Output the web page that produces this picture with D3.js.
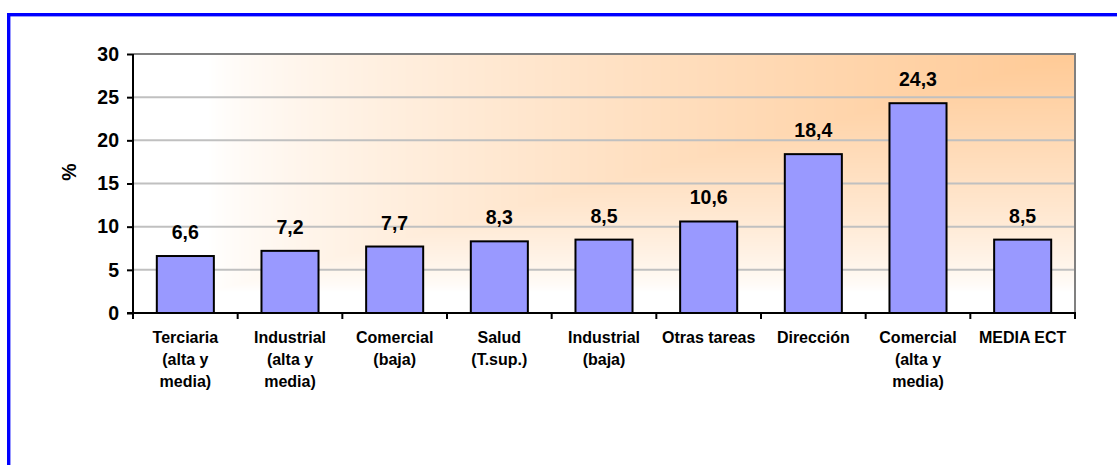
<!DOCTYPE html>
<html>
<head>
<meta charset="utf-8">
<script src="https://cdn.jsdelivr.net/npm/d3@7"></script>
<style>
  html, body { margin: 0; padding: 0; background: #ffffff; }
  svg { display: block; font-family: "Liberation Sans", Arial, sans-serif; font-weight: bold; }
</style>
</head>
<body>
<svg id="chart" width="1117" height="465"></svg>
<script>
const categories = [
  "Terciaria\n(alta y\nmedia)",
  "Industrial\n(alta y\nmedia)",
  "Comercial\n(baja)",
  "Salud\n(T.sup.)",
  "Industrial\n(baja)",
  "Otras tareas",
  "Dirección",
  "Comercial\n(alta y\nmedia)",
  "MEDIA ECT"
];
const values = [6.6, 7.2, 7.7, 8.3, 8.5, 10.6, 18.4, 24.3, 8.5];
const yTicks = [0, 5, 10, 15, 20, 25, 30];
const yLabel = "%";

const W = 1117, H = 465;
const plot = { left: 133, right: 1075, top: 54, bottom: 313 };

const svg = d3.select("#chart");

// outer blue frame (top and left edges visible)
svg.append("rect").attr("x", 7).attr("y", 13).attr("width", W - 7).attr("height", 3.4).attr("fill", "#0000ff");
svg.append("rect").attr("x", 7).attr("y", 13).attr("width", 3.4).attr("height", H - 13).attr("fill", "#0000ff");

const x = d3.scaleBand().domain(categories).range([plot.left, plot.right])
  .paddingInner(0.455).paddingOuter(0.2275);
const y = d3.scaleLinear().domain([0, 30]).range([plot.bottom, plot.top]);

// gradient background ("from corner" style, orange at top-right)
const pw = plot.right - plot.left, ph = plot.bottom - plot.top;
const cv = document.createElement("canvas");
cv.width = pw; cv.height = ph;
const ctx = cv.getContext("2d");
const img = ctx.createImageData(pw, ph);
const c0 = [255, 255, 255], c1 = [255, 202, 150];
for (let j = 0; j < ph; j++) {
  for (let i = 0; i < pw; i++) {
    const u = i / (pw - 1), v = j / (ph - 1);
    let t = (Math.min(u, 1 - v) - 0.08) / 0.92;
    t = Math.pow(Math.max(t, 0), 0.75);
    const k = (j * pw + i) * 4;
    img.data[k] = c0[0] + (c1[0] - c0[0]) * t;
    img.data[k + 1] = c0[1] + (c1[1] - c0[1]) * t;
    img.data[k + 2] = c0[2] + (c1[2] - c0[2]) * t;
    img.data[k + 3] = 255;
  }
}
ctx.putImageData(img, 0, 0);
svg.append("image").attr("x", plot.left).attr("y", plot.top)
  .attr("width", pw).attr("height", ph).attr("href", cv.toDataURL());

// gridlines
svg.append("g").selectAll("line").data(yTicks.filter(d => d > 0 && d < 30)).join("line")
  .attr("x1", plot.left).attr("x2", plot.right)
  .attr("y1", d => y(d)).attr("y2", d => y(d))
  .attr("stroke", "#c0c0c0").attr("stroke-width", 2);

// plot border top & right
svg.append("path")
  .attr("d", `M${plot.left},${y(30)}H${plot.right}V${plot.bottom}`)
  .attr("fill", "none").attr("stroke", "#808080").attr("stroke-width", 2);

// bars
svg.append("g").selectAll("rect").data(values).join("rect")
  .attr("x", (d, i) => x(categories[i]))
  .attr("width", x.bandwidth())
  .attr("y", d => y(d))
  .attr("height", d => y(0) - y(d))
  .attr("fill", "#9999ff").attr("stroke", "#000000").attr("stroke-width", 2);

// value labels
const fmt = d3.format(".1f");
svg.append("g").selectAll("text").data(values).join("text")
  .attr("x", (d, i) => x(categories[i]) + x.bandwidth() / 2)
  .attr("y", d => y(d) - 17)
  .attr("text-anchor", "middle")
  .attr("font-size", "19.5px")
  .attr("fill", "#000")
  .text(d => fmt(d).replace(".", ","));

// y axis
const yAxis = d3.axisLeft(y).tickValues(yTicks).tickSize(6).tickPadding(8).tickFormat(d3.format("d"));
const gy = svg.append("g").attr("transform", `translate(${plot.left},0)`).call(yAxis);
gy.select(".domain").attr("stroke", "#000").attr("stroke-width", 2).attr("d", `M-6,${plot.bottom}H0V${plot.top}`);
gy.selectAll(".tick line").attr("stroke", "#000").attr("stroke-width", 2);
gy.selectAll(".tick text").attr("font-size", "19.5px").attr("font-family", "Liberation Sans, Arial, sans-serif")
  .attr("font-weight", "bold").attr("fill", "#000");

// x axis line and boundary ticks
svg.append("line").attr("x1", plot.left - 1).attr("x2", plot.right + 1)
  .attr("y1", plot.bottom).attr("y2", plot.bottom).attr("stroke", "#000").attr("stroke-width", 2);
const step = x.step();
svg.append("g").selectAll("line").data(d3.range(categories.length + 1)).join("line")
  .attr("x1", i => plot.left + i * step).attr("x2", i => plot.left + i * step)
  .attr("y1", plot.bottom).attr("y2", plot.bottom + 6)
  .attr("stroke", "#000").attr("stroke-width", 2);

// category labels
const cat = svg.append("g").selectAll("text").data(categories).join("text")
  .attr("text-anchor", "middle").attr("font-size", "16px").attr("fill", "#000")
  .attr("transform", d => `translate(${x(d) + x.bandwidth() / 2},${plot.bottom + 30})`);
cat.selectAll("tspan").data(d => d.split("\n")).join("tspan")
  .attr("x", 0).attr("y", (d, i) => i * 22).text(d => d);

// y label
svg.append("text").attr("transform", `translate(76,172) rotate(-90)`)
  .attr("text-anchor", "middle").attr("font-size", "19.5px").attr("fill", "#000").text(yLabel);
</script>
</body>
</html>
